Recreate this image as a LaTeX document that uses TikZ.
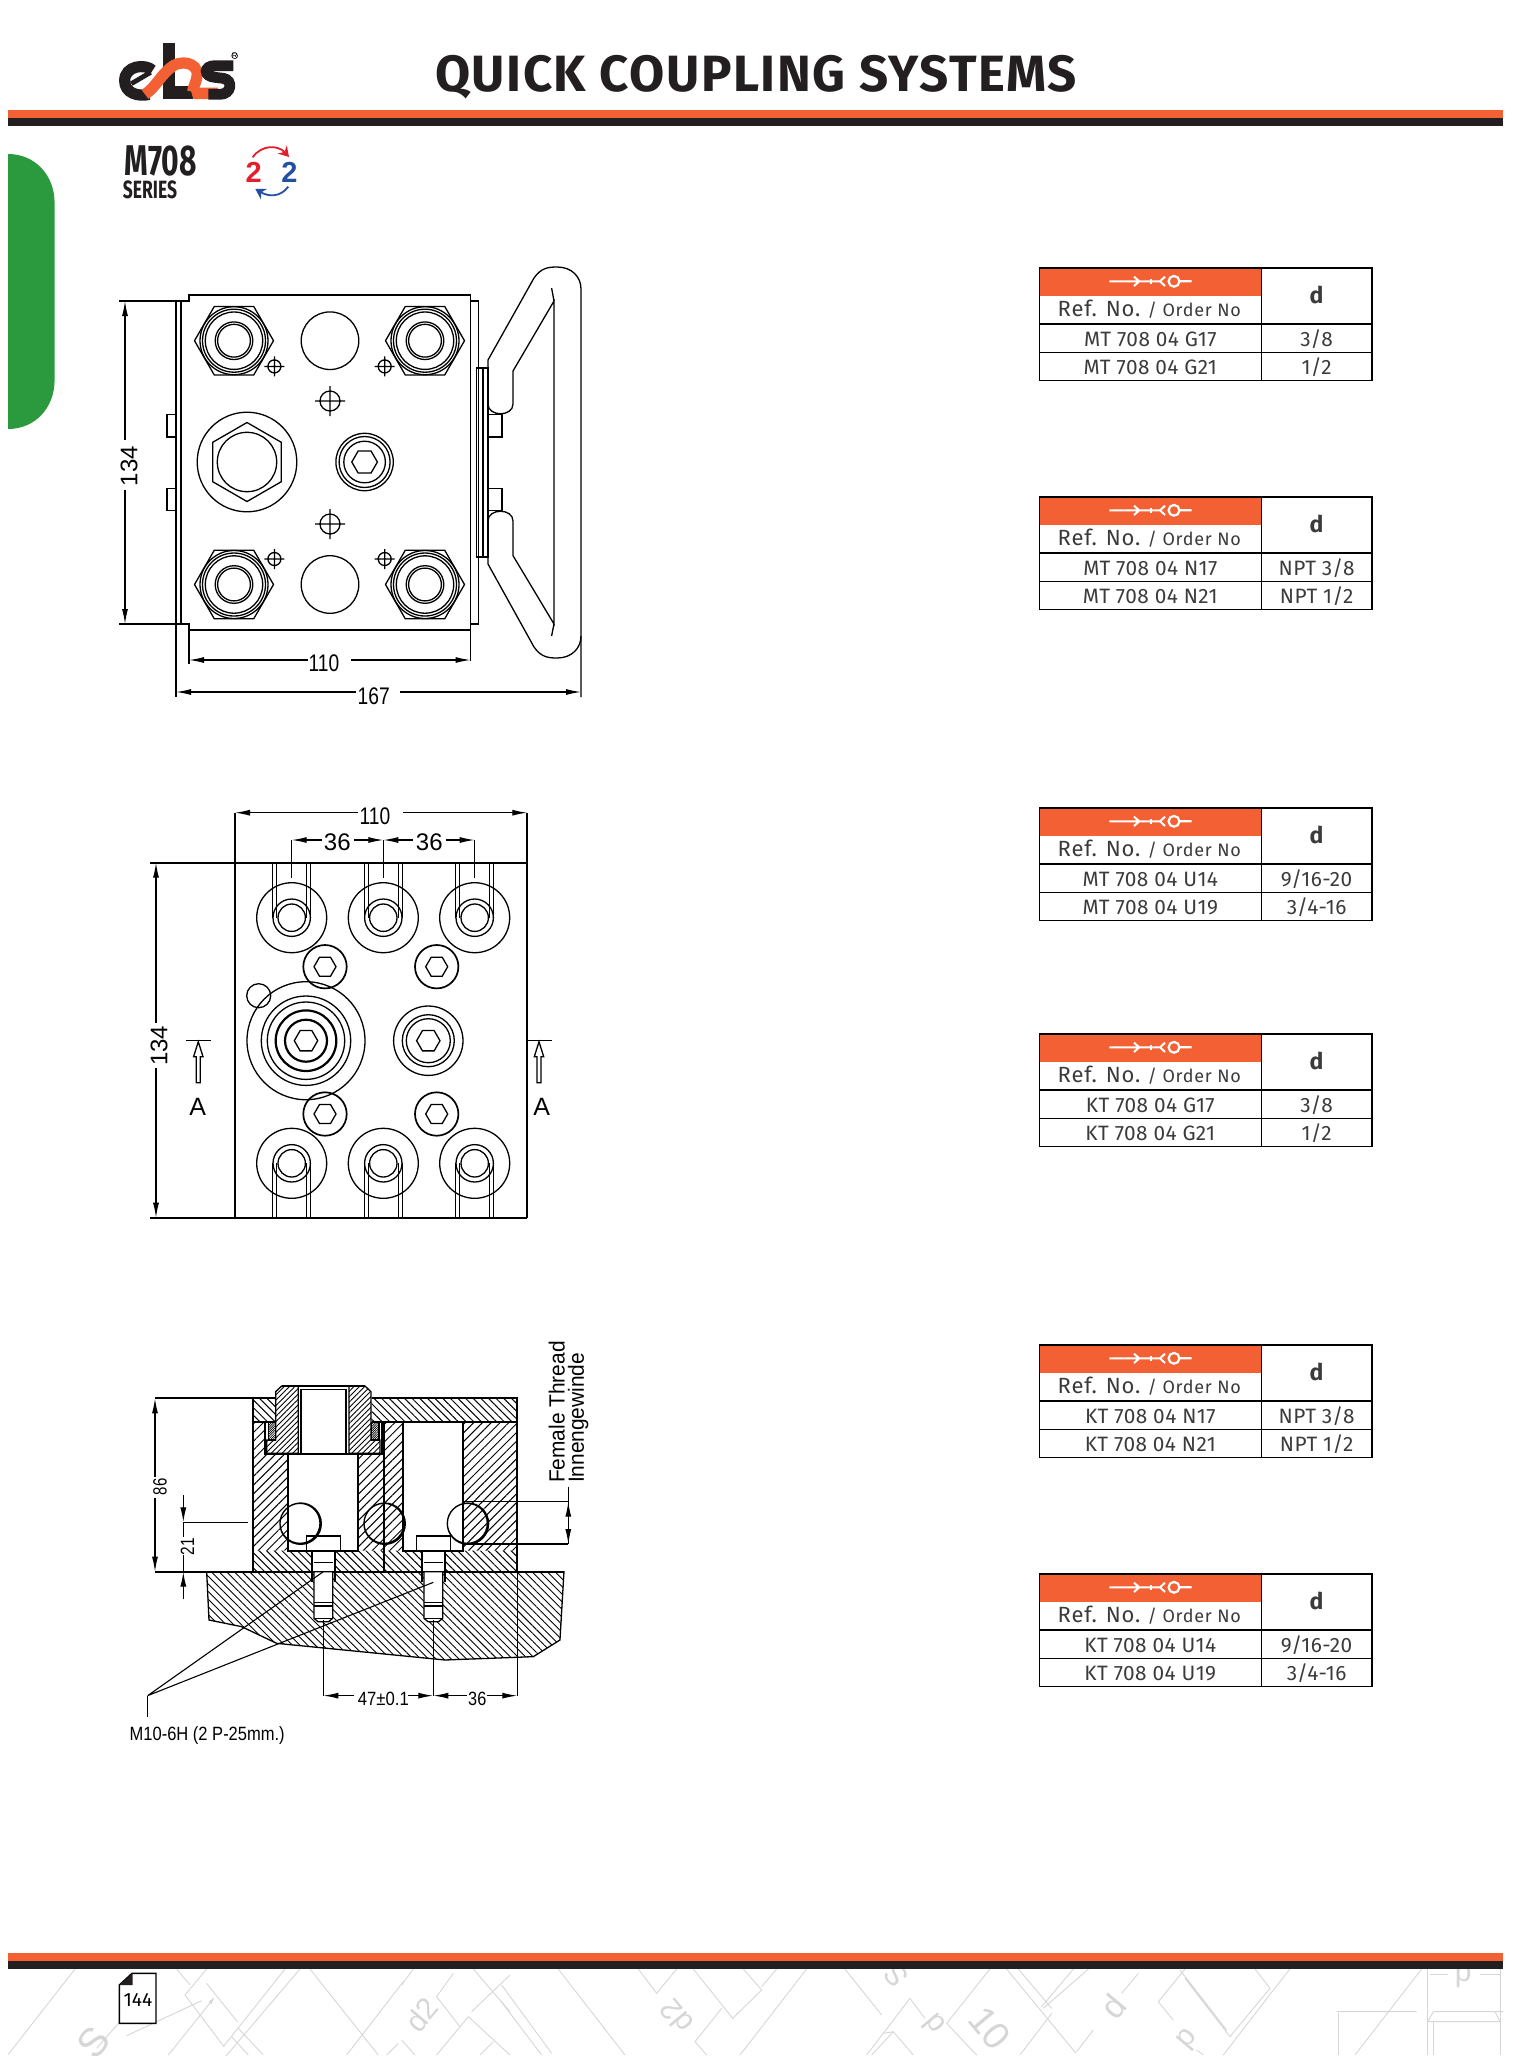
\documentclass[tikz,border=0pt]{standalone}
\usepackage{fontspec}
\setmainfont{Liberation Sans}
\newfontfamily\dinfont{Fira Sans}
\usetikzlibrary{arrows.meta,patterns.meta}

\definecolor{ebsorange}{HTML}{F26033}
\definecolor{ebsblack}{HTML}{231F20}
\definecolor{ebsgreen}{HTML}{2B9A3F}
\definecolor{markgray}{HTML}{D6D6D6}
\definecolor{ebsred}{HTML}{E31E2D}
\definecolor{ebsblue}{HTML}{2350A5}

\tikzset{
  part/.style={line width=.65pt},
  heavy/.style={line width=1.1pt},
  extline/.style={line width=.55pt},
  dimtip/.style={line width=.6pt, -{Latex[length=7.5pt,width=3pt]}},
  dimtext/.style={font=\fontsize{12}{12}\selectfont, inner sep=0pt},
  sidetext/.style={font=\fontsize{11}{11}\selectfont, inner sep=0pt},
  smalltext/.style={font=\fontsize{9.6}{10}\selectfont, inner sep=0pt},
  hatchA/.style={pattern={Lines[angle=45,distance=3.1pt,line width=.5pt]}},
  hatchB/.style={pattern={Lines[angle=-45,distance=2.7pt,line width=.5pt]}},
  hatchC/.style={pattern={Lines[angle=-45,distance=2.7pt,line width=.45pt]}},
  hatchD/.style={pattern={Lines[angle=45,distance=1.9pt,line width=.45pt]}},
  hatchE/.style={pattern={Lines[angle=45,distance=.8pt,line width=.35pt]}},
  markline/.style={draw=markgray, line width=.45pt},
  marktext/.style={text=markgray, inner sep=0pt},
  reftext/.style={font=\dinfont\fontsize{10.4}{11}\selectfont, text=ebsblack!88, inner sep=0pt},
}

\newcommand{\hexnut}[3]{\draw[part, shift={(#1)}, rotate=#3] (0:#2) -- (60:#2) -- (120:#2) -- (180:#2) -- (240:#2) -- (300:#2) -- cycle;}
\newcommand{\fitting}[1]{
  \hexnut{#1}{39.5}{0}
  \draw[part] (#1) circle (34) (#1) circle (31.5) (#1) circle (28.7) (#1) circle (18.8) (#1) circle (16.4);
}
\newcommand{\crosshair}[3]{
  \draw[part] (#1) circle (#2) ++(-#3,0) -- ++(2*#3,0) ++(-#3,-#3) -- ++(0,2*#3);
}
\newcommand{\portslot}[3]{
  \draw[part] (#1,#2) circle (35) (#1,#2) circle (18.7) (#1,#2) circle (13.7);
  \draw[part] (#1-19,#3) -- (#1-19,#2) (#1-15,#3) -- (#1-15,#2) (#1+15,#3) -- (#1+15,#2) (#1+19,#3) -- (#1+19,#2);
}
\newcommand{\capscrew}[1]{
  \draw[line width=.85pt] (#1) circle (21.7);
  \hexnut{#1}{11}{0}
}
\newcommand{\sectionarrow}[2]{
  \draw[part] (#1,#2) -- ++(4.7,15) -- ++(-2.7,0) -- ++(0,26) -- ++(-4,0) -- ++(0,-26) -- ++(-2.7,0) -- cycle;
}
\newcommand{\boltshank}[2]{
  \draw[part, fill=white] (#1+612,755) -- (#1+612,895) -- (#1+624,905) -- (#1+656,905) -- (#1+668,895) -- (#1+668,755) -- cycle;
  \draw[part] (#1+612,727) -- (#1+668,727) (#1+612,848) -- (#1+668,848) (#1+612,858) -- (#1+668,858) (#1+612,895) -- (#1+668,895);
  \draw[heavy] (#1+605,692) -- (#1+605,785) (#1+675,692) -- (#1+675,785);
  \draw[part, fill=white] (#1+590,648) rectangle (#1+692,692);
}
\newcommand{\reftable}[5]{
  \begin{scope}[shift={(1039.3,#1)}]
    \fill[ebsorange] (0,0) rectangle (222,27.7);
    \draw[white, line width=1pt] (70,13.3) -- (100,13.3) (94.7,8.7) -- (100,13.3) -- (94.7,18) (100,13.3) -- (114,13.3);
    \draw[white, line width=1.4pt] (111.7,10.7) -- (111.7,16);
    \draw[white, line width=1pt] (125.7,8.7) -- (120.7,13.3) -- (125.7,18) (120.7,13.3) -- (114,13.3);
    \draw[white, line width=1.1pt] (134.7,13.3) circle (5.4) (140,13.3) -- (152.3,13.3);
    \draw[line width=.7pt] (0,0) rectangle (332.7,112.7);
    \draw[line width=.6pt] (222,0) -- (222,112.7) (0,84.7) -- (332.7,84.7);
    \draw[line width=1pt] (0,56) -- (332.7,56);
    \node[reftext, anchor=base west] (refa#1) at (18,48.3) {\fontsize{11}{11}\selectfont\addfontfeature{LetterSpace=4}Ref. No.};
    \node[reftext, anchor=base west] (refb#1) at (108,48.3) {\fontsize{9}{9}\selectfont\addfontfeature{LetterSpace=4}/ Order No};
    \node[reftext, anchor=base] (refd#1) at (277.3,35) {\bfseries\fontsize{11.5}{12}\selectfont d};
    \node[reftext, anchor=base] (refc#1) at (111,78.3) {\addfontfeature{LetterSpace=2}#2};
    \node[reftext, anchor=base] (refe#1) at (277.3,78.3) {\addfontfeature{LetterSpace=2}#3};
    \node[reftext, anchor=base] (reff#1) at (111,106.7) {\addfontfeature{LetterSpace=2}#4};
    \node[reftext, anchor=base] (refg#1) at (277.3,106.7) {\addfontfeature{LetterSpace=2}#5};
  \end{scope}
}

\begin{document}
\begin{tikzpicture}[x=0.5pt, y=-0.5pt]
  \useasboundingbox (0,0) rectangle (1512,2063);

  % page head
  \fill[ebsorange] (8,110) rectangle (1503,118);
  \fill[ebsblack] (8,118) rectangle (1503,126);
  \node[font=\dinfont\bfseries\fontsize{25.5}{26}\selectfont, text=ebsblack, inner sep=0pt, anchor=base] (pagetitle) at (756,91) {\addfontfeature{LetterSpace=3}QUICK COUPLING SYSTEMS};
  \fill[ebsgreen] (8,154) -- (8,429) .. controls (35,429) and (54.6,408) .. (54.6,380) -- (54.6,203) .. controls (54.6,175) and (35,154) .. (8,154) -- cycle;

  % logo and series mark
  \begin{scope}[shift={(110,35)}, x=1/6*1pt, y=-1/6*1pt]
    \draw[ebsblack, line width=5.6pt] (128,106) .. controls (105,85) and (44,92) .. (44,137) .. controls (44,175) and (85,186) .. (118,178);
    \draw[ebsblack, line width=2.4pt] (64,146) -- (122,112);
    \fill[ebsblack] (160,25) rectangle (195,190);
    \fill[ebsblack] (160,152) rectangle (250,192);
    \draw[ebsorange, line width=5.6pt] (105,178) .. controls (140,155) and (150,120) .. (190,92) .. controls (230,70) and (272,95) .. (260,130) .. controls (255,150) and (250,155) .. (248,170);
    \fill[ebsorange] (240,158) -- (325,158) -- (295,192) -- (250,192) -- cycle;
    \draw[ebsblack, line width=5.4pt] (370,92) -- (315,92) .. controls (280,92) and (280,125) .. (315,127) -- (340,130) .. controls (370,135) and (365,178) .. (330,178) -- (295,178);
    \draw[ebsblack, line width=.3pt] (374,62) circle (9);
    \node[font=\fontsize{4}{4}\selectfont, inner sep=0pt] (logomark) at (374,62) {R};
    \node[font=\dinfont\bfseries\fontsize{21.5}{22}\selectfont, xscale=.7, inner sep=0pt, text=ebsblack, anchor=base west] (seriesname) at (43,420) {M708};
    \node[font=\dinfont\bfseries\fontsize{12.5}{13}\selectfont, xscale=.7, inner sep=0pt, text=ebsblack, anchor=base west] (serieslabel) at (38,490) {SERIES};
    \node[font=\bfseries\fontsize{14.5}{15}\selectfont, text=ebsred, inner sep=0pt] (flowred) at (431,412) {2};
    \node[font=\bfseries\fontsize{14.5}{15}\selectfont, text=ebsblue, inner sep=0pt] (flowblue) at (538,412) {2};
    \draw[ebsred, line width=.9pt, -{Stealth[length=5pt,width=6pt]}] (428,367) .. controls (455,328) and (505,330) .. (537,366);
    \draw[ebsblue, line width=.9pt, -{Stealth[length=5pt,width=6pt]}] (535,455) .. controls (510,488) and (475,485) .. (436,462);
  \end{scope}

  % top view
  \draw[heavy] (119,301) -- (189,301) -- (189,295) -- (470.5,295);
  \draw[part] (470.5,295) -- (470.5,661);
  \draw[part] (176,301) -- (176,697) (181,301) -- (181,624);
  \draw[part] (119,624) -- (189,624) -- (189,630) -- (470.5,630);
  \draw[heavy] (189,630) -- (189,663.5);
  \draw[part] (470.5,301) -- (478.5,301) -- (478.5,624) -- (470.5,624);
  \draw[part] (176,414.6) -- (167,414.6) -- (167,437) -- (176,437) (176,488.5) -- (167,488.5) -- (167,510.6) -- (176,510.6);
  \draw[part] (476.5,368) rectangle (488,557) (483,368) -- (483,557);
  \draw[part] (488,414.6) -- (502,414.6) -- (502,437) -- (488,437) (488,488.5) -- (502,488.5) -- (502,510.6) -- (488,510.6);
  \draw[part] (488,404) -- (488,360) -- (534,278) .. controls (541,268) and (548,267) .. (557,267) .. controls (572,267) and (581,277) .. (581,289) -- (581,697);
  \draw[part] (581,636) .. controls (581,648) and (572,658) .. (557,658) .. controls (548,658) and (541,657) .. (534,647) -- (488,564) -- (488,521) .. controls (488,508) and (513,508) .. (513,521) -- (513,555.6) -- (554,624) -- (554,301) -- (513,371) -- (513,404) .. controls (513,417) and (488,417) .. (488,404);
  \draw[part] (551.6,288) -- (554,301) (551.6,636) -- (554,624);

  \fitting{234,340.7}
  \fitting{425,340.7}
  \fitting{234,584.5}
  \fitting{425,584.5}
  \draw[part] (330,340.7) circle (28.8) (330,584.5) circle (28.8);
  \crosshair{274.4,366.4}{6.5}{10}
  \crosshair{384.7,366.4}{6.5}{10}
  \crosshair{274.4,559}{6.5}{10}
  \crosshair{384.7,559}{6.5}{10}
  \crosshair{330,401}{10}{15}
  \crosshair{330,524}{10}{15}
  \draw[part] (247,462) circle (49.8) (247,462) circle (29.7);
  \hexnut{247,462}{39.5}{30}
  \draw[part] (364.6,462) circle (28.7) (364.6,462) circle (25.5) (364.6,462) circle (20.8);
  \hexnut{364.6,462}{12.8}{0}

  \draw[dimtip] (125,440) -- (125,301);
  \draw[dimtip] (125,490) -- (125,624);
  \draw[dimtip] (308,660) -- (189,660);
  \draw[dimtip] (351,660) -- (470.5,660);
  \draw[dimtip] (356,692) -- (176,692);
  \draw[dimtip] (400,692) -- (581,692);
  \node[dimtext, rotate=90] (dimheighta) at (129,466) {134};
  \node[dimtext, xscale=.8] (dimwidtha) at (324,663) {110};
  \node[dimtext, xscale=.8] (dimoverall) at (373.7,696) {167};

  % front view
  \draw[heavy] (150,862.7) -- (527.3,862.7) (150,1217.7) -- (527.3,1217.7);
  \draw[heavy] (235,812.7) -- (235,1217.7) (527.3,812.7) -- (527.3,1217.7);
  \portslot{291.7}{917.7}{862.7}
  \portslot{383.3}{917.7}{862.7}
  \portslot{474.7}{917.7}{862.7}
  \portslot{291.7}{1163.3}{1217.7}
  \portslot{383.3}{1163.3}{1217.7}
  \portslot{474.7}{1163.3}{1217.7}
  \capscrew{325,966.7}
  \capscrew{436.7,966.7}
  \capscrew{325,1114}
  \capscrew{436.7,1114}
  \draw[part] (306,1040.7) circle (59) (306,1040.7) circle (44.7) (306,1040.7) circle (38.7);
  \draw[heavy] (306,1040.7) circle (30.3) (306,1040.7) circle (21);
  \hexnut{306,1040.7}{11.7}{0}
  \draw[part] (258.7,995.7) circle (12);
  \draw[part] (428.3,1040.7) circle (34.7) (428.3,1040.7) circle (26) (428.3,1040.7) circle (22);
  \hexnut{428.3,1040.7}{11.7}{0}

  \draw[dimtip] (358,812.7) -- (235,812.7);
  \draw[dimtip] (403,812.7) -- (527.3,812.7);
  \draw[dimtip] (322,840) -- (291.7,840);
  \draw[dimtip] (354,840) -- (383.3,840);
  \draw[dimtip] (413,840) -- (383.3,840);
  \draw[dimtip] (446,840) -- (474.7,840);
  \draw[extline] (291.7,840) -- (291.7,878) (383.3,840) -- (383.3,878) (474.7,840) -- (474.7,878);
  \draw[dimtip] (156,1023) -- (156,862.7);
  \draw[dimtip] (156,1068) -- (156,1217.7);
  \node[dimtext, xscale=.8] (dimwidthb) at (375,816.7) {110};
  \node[dimtext] (dimpitcha) at (337.3,842.7) {36};
  \node[dimtext] (dimpitchb) at (429.3,842.7) {36};
  \node[dimtext, rotate=90] (dimheightb) at (159,1045.7) {134};

  \draw[part] (186,1040.7) -- (210.7,1040.7) (527.3,1040.7) -- (551.7,1040.7);
  \sectionarrow{198.3}{1041.7}
  \sectionarrow{539}{1041.7}
  \node[font=\fontsize{12.5}{13}\selectfont, inner sep=0pt] (cutleft) at (197.7,1106.7) {A};
  \node[font=\fontsize{12.5}{13}\selectfont, inner sep=0pt] (cutright) at (541.7,1106.7) {A};

  % section A-A, values as read off at three times the pixel size
  \begin{scope}[shift={(110,1320)}, x=1/6*1pt, y=-1/6*1pt]
    \draw[hatchC, part] (290,755) -- (297,900) -- (395,920) -- (500,970) -- (1005,1020) -- (1270,1010) -- (1350,960) -- (1362,755) -- cycle;
    \path[hatchA] (430,305) -- (463,305) -- (463,400) -- (535,400) -- (535,692) -- (745,692) -- (745,400) -- (815,400) -- (815,305) -- (822,305) -- (822,692) -- (430,692) -- cycle;
    \path[hatchA] (822,305) -- (878,305) -- (878,692) -- (1060,692) -- (1060,305) -- (1222,305) -- (1222,692) -- (822,692) -- cycle;
    \path[hatchB] (430,692) rectangle (605,755) (675,692) rectangle (822,755);
    \path[hatchB] (822,692) rectangle (935,755) (1005,692) rectangle (1222,755);
    \path[hatchB] (430,235) rectangle (497,305) (785,235) rectangle (1222,305);
    \draw[hatchD, part] (515,198) -- (565,198) -- (565,400) -- (470,400) -- (470,360) -- (497,360) -- (497,215) -- cycle;
    \draw[hatchD, part] (765,198) -- (717,198) -- (717,400) -- (810,400) -- (810,360) -- (783,360) -- (783,215) -- cycle;
    \draw[hatchE, part] (475,308) rectangle (497,360) (785,308) rectangle (807,360);
    \draw[heavy] (135,235) -- (497,235) (785,235) -- (1222,235) -- (1222,755) (135,755) -- (1362,755);
    \draw[heavy] (430,235) -- (430,755) (430,305) -- (497,305) (785,305) -- (1222,305);
    \draw[heavy] (465,305) -- (465,402) -- (815,402) -- (815,305);
    \draw[heavy] (535,402) -- (535,692) -- (745,692) -- (745,402);
    \draw[heavy] (878,308) -- (878,692) -- (1060,692) -- (1060,308);
    \draw[part] (822,305) -- (822,755);
    \draw[heavy] (573,206) -- (573,402) (708,206) -- (708,402);
    \draw[part] (515,198) -- (765,198) (573,208) -- (708,208);
    \boltshank{0}{0}
    \boltshank{330}{0}
    \draw[part] (570,610) circle (60) (572,611) circle (62);
    \draw[part] (822,610) circle (60) (824,611) circle (62);
    \draw[part] (1072,610) circle (60) (1074,611) circle (62);
    \draw[extline] (1060,545) -- (1375,545) (1060,672) -- (1375,672);
    \draw[extline] (1222,755) -- (1222,1127) (640,900) -- (640,1127) (970,900) -- (970,1127);
    \draw[extline] (113,1127) -- (640,755) (113,1127) -- (970,787);
    \draw[part] (113,1127) -- (113,1192);

    \draw[dimtip] (135,470) -- (135,235);
    \draw[dimtip] (135,535) -- (135,755);
    \draw[dimtip] (220,525) -- (220,607);
    \draw[dimtip] (220,838) -- (220,755);
    \draw[extline] (220,607) -- (415,607) (220,607) -- (220,650) (220,705) -- (220,755);
    \draw[dimtip] (1375,595) -- (1375,545);
    \draw[dimtip] (1375,625) -- (1375,672);
    \draw[extline] (1375,500) -- (1375,672);
    \draw[dimtip] (732,1127) -- (640,1127);
    \draw[dimtip] (895,1127) -- (970,1127);
    \draw[dimtip] (1070,1127) -- (970,1127);
    \draw[dimtip] (1130,1127) -- (1222,1127);
    \node[smalltext, rotate=90, xscale=.78] (dimdepth) at (150,500) {86};
    \node[smalltext, rotate=90, xscale=.8] (dimport) at (232,680) {21};
    \node[smalltext, xscale=.87] (dimbolt) at (820,1137) {47±0.1};
    \node[smalltext, xscale=.85] (dimedge) at (1102,1137) {36};
    \node[sidetext, rotate=90, anchor=west, xscale=.95] (threadtext) at (1340,490) {Female Thread};
    \node[sidetext, rotate=90, anchor=west, xscale=.95] (threadtextb) at (1405,490) {Innengewinde};
    \node[smalltext, xscale=.86, anchor=west] (bolttext) at (58,1248) {M10-6H (2 P-25mm.)};
  \end{scope}

  % order tables
  \reftable{268}{MT 708 04 G17}{3/8}{MT 708 04 G21}{1/2}
  \reftable{497}{MT 708 04 N17}{NPT 3/8}{MT 708 04 N21}{NPT 1/2}
  \reftable{808}{MT 708 04 U14}{9/16-20}{MT 708 04 U19}{3/4-16}
  \reftable{1034}{KT 708 04 G17}{3/8}{KT 708 04 G21}{1/2}
  \reftable{1345}{KT 708 04 N17}{NPT 3/8}{KT 708 04 N21}{NPT 1/2}
  \reftable{1574}{KT 708 04 U14}{9/16-20}{KT 708 04 U19}{3/4-16}

  % page foot
  \fill[ebsorange] (8,1953) rectangle (1503,1961);
  \fill[ebsblack] (8,1961) rectangle (1503,1969);
  \begin{scope}
    \clip (0,1969) rectangle (1512,2055);
    \begin{scope}[shift={(0,1965)}, x=1/6*1pt, y=-1/6*1pt]
      \draw[markline] (225,12) -- (25,268) (358,172) -- (290,250);
      \draw[markline] (530,12) -- (570,60) (620,12) -- (555,90) -- (672,245) (620,55) -- (712,170);
      \draw[markline, -{Latex[length=4pt,width=2pt]}] (505,270) -- (645,95);
      \draw[markline] (380,212) -- (605,107);
      \draw[markline] (900,12) -- (655,300) (855,12) -- (670,245) (715,190) -- (790,270) (695,215) -- (745,270);
      \draw[markline] (930,12) -- (1135,270) (1210,50) -- (1040,270) (1240,12) -- (1205,60);
      \draw[markline] (1360,25) -- (1310,95) -- (1380,185);
      \draw[markline] (1420,12) -- (1530,140) (1530,30) -- (1415,140) (1405,155) -- (1310,270) (1405,155) -- (1530,270) (1480,230) -- (1440,270);
      \draw[markline] (1195,235) -- (1160,270) (1205,225) -- (1245,270);
      \node[marktext, rotate=50, font=\fontsize{15}{15}\selectfont] (markdone) at (1265,150) {d2};
      \node[marktext, rotate=50, font=\fontsize{20}{20}\selectfont] (marks) at (280,232) {S};
    \end{scope}
    \begin{scope}[shift={(500,1965)}, x=1/6*1pt, y=-1/6*1pt]
      \draw[markline] (5,60) -- (155,265) (0,105) -- (125,270) (175,12) -- (375,270);
      \draw[markline] (415,12) -- (470,85) -- (530,12) (580,12) -- (698,160) -- (785,75) -- (730,12) (785,65) -- (830,12);
      \draw[markline] (665,130) -- (585,230) -- (620,270) (920,12) -- (720,270) (1035,12) -- (1145,150);
      \draw[markline] (1100,270) -- (1230,100) -- (1275,160) (1470,12) -- (1340,175) -- (1430,270);
      \draw[markline] (1115,270) -- (1180,200) -- (1240,270) (1150,205) -- (1180,200);
      \node[marktext, rotate=130, font=\fontsize{15}{15}\selectfont] (markdtwo) at (530,155) {d2};
      \node[marktext, rotate=-50, font=\fontsize{19}{19}\selectfont] (markten) at (1470,190) {10};
      \node[marktext, rotate=-50, font=\fontsize{15}{15}\selectfont] (markpa) at (1300,180) {p};
      \node[marktext, rotate=130, font=\fontsize{15}{15}\selectfont] (markfive) at (1190,30) {S};
    \end{scope}
    \begin{scope}[shift={(1000,1965)}, x=1/6*1pt, y=-1/6*1pt]
      \draw[markline] (20,12) -- (228,265) (55,12) -- (155,130) (265,12) -- (130,130) (220,12) -- (125,125) (155,145) -- (60,270);
      \draw[markline] (415,25) -- (365,85) (280,195) -- (230,260);
      \draw[markline] (555,12) -- (475,110) -- (520,165) (555,40) -- (690,215) (540,15) -- (680,195) (810,70) -- (690,215) (820,75) -- (670,270) (765,12) -- (810,70) (870,12) -- (820,75);
      \draw[markline] (590,255) -- (610,270);
      \draw[markline] (1265,12) -- (1065,270) (1010,140) -- (1250,140);
      \draw[markline] (1015,145) -- (1015,270) (1283,12) -- (1283,270) (1300,170) -- (1300,270) (1500,12) -- (1500,270);
      \draw[markline] (1283,170) -- (1500,170) (1300,140) -- (1510,140) (1283,170) -- (1300,140) (1485,140) -- (1500,170);
      \draw[markline] (1290,28) -- (1345,28) (1440,28) -- (1500,28);
      \node[marktext, rotate=50, font=\fontsize{17}{17}\selectfont] (markdb) at (340,125) {d};
      \node[marktext, rotate=-130, font=\fontsize{15}{15}\selectfont] (markq) at (565,225) {d};
      \node[marktext, font=\fontsize{15}{15}\selectfont] (markpb) at (1390,35) {p};
    \end{scope}
  \end{scope}

  % page number
  \draw[line width=.7pt, fill=white] (119.3,1985) -- (132,1973.3) -- (156,1973.3) -- (156,2023.3) -- (119.3,2023.3) -- cycle;
  \fill[ebsblack] (119.3,1985) -- (132.7,1973.3) -- (132.7,1985) -- cycle;
  \node[font=\dinfont\fontsize{9.6}{10}\selectfont, inner sep=0pt] (pagenumber) at (138,1999.5) {144};
\end{tikzpicture}
\end{document}
